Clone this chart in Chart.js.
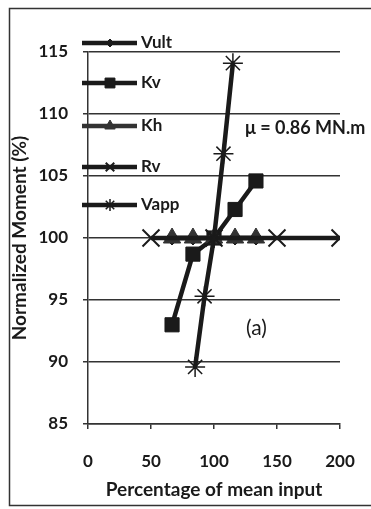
<!DOCTYPE html>
<html>
<head>
<meta charset="utf-8">
<script src="https://cdn.jsdelivr.net/npm/chart.js@4"></script>
<style>
  html, body { margin: 0; padding: 0; background: #fff; }
  #wrap { width: 371px; height: 509px; }
</style>
</head>
<body>
<div id="wrap"><canvas id="myChart" width="371" height="509"></canvas></div>
<script>
// series: x = percentage of mean input, y = normalized moment (%)
const vultX = [66.7, 83.3, 100, 116.7, 133.3];
const vultY = [100, 100, 100, 100, 100];
const kvX = [66.7, 83.3, 100, 116.7, 133.3];
const kvY = [93, 98.7, 100, 102.3, 104.6];
const khX = [66.7, 83.3, 100, 116.7, 133.3];
const khY = [100, 100, 100, 100, 100];
const rvX = [50, 100, 150, 200];
const rvY = [100, 100, 100, 100];
const vappX = [85, 92.5, 100, 107.5, 115];
const vappY = [89.6, 95.3, 100, 106.8, 114.1];

const seriesNames = ["Vult", "Kv", "Kh", "Rv", "Vapp"];
const yTicks = [85, 90, 95, 100, 105, 110, 115];
const xTicks = [0, 50, 100, 150, 200];

const FONT = "Lato";
const INK = "#1a1a1a";

function pts(xs, ys) {
  return xs.map((x, i) => ({ x: x, y: ys[i] }));
}

const styles = [
  { style: "rectRot", radius: 7, color: INK, width: 4.5, bw: 1, legR: 4 },
  { style: "rect", radius: 10, color: INK, width: 4.5, bw: 1, legR: 7 },
  { style: "triangle", radius: 10, color: "#333", width: 4.5, bw: 1, legR: 6 },
  { style: "crossRot", radius: 12, color: INK, width: 4.5, bw: 2, legR: 6 },
  { style: "star", radius: 10, color: INK, width: 4.5, bw: 1.5, legR: 6 }
];
const xs = [vultX, kvX, khX, rvX, vappX];
const ys = [vultY, kvY, khY, rvY, vappY];

const datasets = seriesNames.map((name, i) => ({
  label: name,
  data: pts(xs[i], ys[i]),
  showLine: true,
  borderColor: styles[i].color,
  backgroundColor: styles[i].color,
  borderWidth: styles[i].width,
  pointStyle: styles[i].style,
  pointRadius: styles[i].radius,
  pointBorderWidth: styles[i].bw,
  pointBorderColor: styles[i].color,
  pointBackgroundColor: styles[i].color,
  order: 5 - i
}));

// frame, legend and annotations
const decor = {
  id: "decor",
  afterDraw(chart) {
    const ctx = chart.ctx;
    ctx.save();
    ctx.strokeStyle = "#333";
    ctx.lineWidth = 1.5;
    ctx.beginPath();
    ctx.moveTo(371, 8.5);
    ctx.lineTo(9.5, 8.5);
    ctx.lineTo(9.5, 505.5);
    ctx.lineTo(371, 505.5);
    ctx.stroke();

    const legY = [43, 83, 126, 167, 205];
    seriesNames.forEach((name, i) => {
      const s = styles[i];
      const y = legY[i];
      ctx.strokeStyle = s.color;
      ctx.fillStyle = s.color;
      ctx.lineWidth = 4.5;
      ctx.beginPath();
      ctx.moveTo(82, y);
      ctx.lineTo(137, y);
      ctx.stroke();
      ctx.lineWidth = s.bw;
      Chart.helpers.drawPoint(ctx, {
        pointStyle: s.style,
        radius: s.legR,
        rotation: 0,
        borderWidth: s.bw
      }, 110, y);
      ctx.fillStyle = INK;
      ctx.font = "bold 17px " + FONT;
      ctx.textAlign = "left";
      ctx.textBaseline = "middle";
      ctx.fillText(name, 141, y);
    });

    ctx.fillStyle = INK;
    ctx.font = "bold 18px " + FONT;
    ctx.textAlign = "left";
    ctx.textBaseline = "middle";
    ctx.fillText("\u03bc = 0.86 MN.m", 245, 128);
    ctx.font = "21px " + FONT;
    ctx.fillText("(a)", 246, 328);
    ctx.restore();
  }
};

const config = {
  type: "scatter",
  data: { datasets },
  options: {
    responsive: false,
    animation: false,
    layout: { padding: { top: 52, right: 31, left: 8, bottom: 4 } },
    plugins: { legend: { display: false }, tooltip: { enabled: false } },
    scales: {
      x: {
        type: "linear",
        min: 0,
        max: 200,
        afterBuildTicks: (scale) => { scale.ticks = xTicks.map(v => ({ value: v })); },
        afterFit: (scale) => {
          scale.height = 81;
          scale.paddingLeft = 0;
          scale.paddingRight = 0;
        },
        grid: { display: true, drawOnChartArea: false, drawTicks: true, tickLength: 5, color: "#333", lineWidth: 1.5 },
        border: { color: "#333", width: 1.5 },
        ticks: { color: INK, font: { family: FONT, size: 17, weight: "bold" }, padding: 22, maxRotation: 0 },
        title: { display: true, text: "Percentage of mean input", color: INK, font: { family: FONT, size: 19, weight: "bold" }, padding: { top: 6 } }
      },
      y: {
        type: "linear",
        min: 85,
        max: 115,
        afterBuildTicks: (scale) => { scale.ticks = yTicks.map(v => ({ value: v })); },
        afterFit: (scale) => { scale.width = 80; },
        grid: { color: "#333", lineWidth: 1.5, drawTicks: true, tickLength: 5 },
        border: { color: "#333", width: 1.5 },
        ticks: { color: INK, font: { family: FONT, size: 17, weight: "bold" }, padding: 15 },
        title: { display: true, text: "Normalized Moment (%)", color: INK, font: { family: FONT, size: 19, weight: "bold" }, padding: 0 }
      }
    }
  },
  plugins: [decor]
};

new Chart(document.getElementById("myChart"), config);
</script>
</body>
</html>
